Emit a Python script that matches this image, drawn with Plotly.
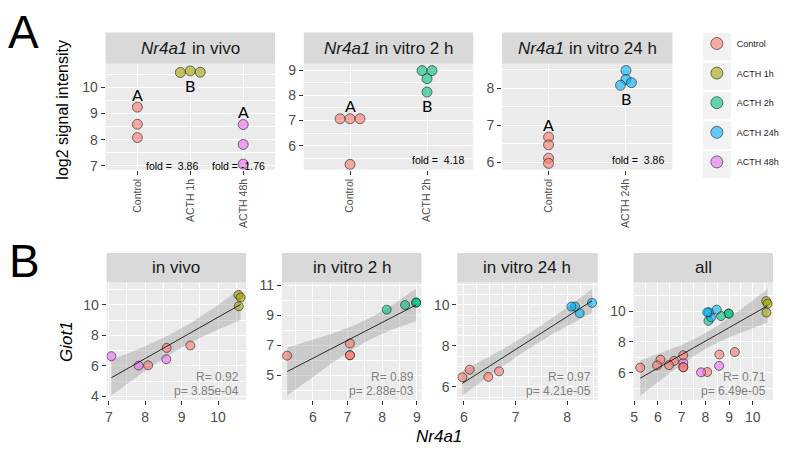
import numpy as np
import plotly.graph_objects as go

W, H = 787, 454

# ---------------- data ----------------
groups = ["Control", "ACTH 1h", "ACTH 2h", "ACTH 24h", "ACTH 48h"]
group_colors = ["#F8766D", "#A3A500", "#00BF7D", "#00B0F6", "#E76BF3"]

# in vivo
vivo_ctrl_nr4a1 = [9.24, 8.59, 8.08]
vivo_ctrl_giot1 = [7.34, 7.18, 6.04]
vivo_1h_nr4a1 = [10.56, 10.62, 10.57]
vivo_1h_giot1 = [10.65, 10.48, 9.91]
vivo_48h_nr4a1 = [8.58, 7.82, 7.07]
vivo_48h_giot1 = [6.44, 6.02, 6.64]
# in vitro 2 h
v2_ctrl_nr4a1 = [7.07, 7.07, 7.07, 5.26]
v2_ctrl_giot1 = [7.13, 6.35, 6.35, 6.32]
v2_acth_nr4a1 = [8.98, 8.98, 8.66, 8.13]
v2_acth_giot1 = [9.84, 9.84, 9.68, 9.37]
# in vitro 24 h
v24_ctrl_nr4a1 = [6.68, 6.47, 6.11, 5.97]
v24_ctrl_giot1 = [6.76, 6.49, 6.84, 6.47]
v24_acth_nr4a1 = [8.48, 8.24, 8.15, 8.08]
v24_acth_giot1 = [10.1, 9.6, 9.92, 9.92]

fold_vivo = ["fold =\u00a0\u00a03.86", "fold = -1.76"]
fold_v2 = ["fold =\u00a0\u00a04.18"]
fold_v24 = ["fold =\u00a0\u00a03.86"]
letters_vivo = ["A", "B", "A"]
letters_v2 = ["A", "B"]
letters_v24 = ["A", "B"]

stat_R = ["0.92", "0.89", "0.97", "0.71"]
stat_p = ["3.85e-04", "2.88e-03", "4.21e-05", "6.49e-05"]

# ---------------- layout helpers ----------------
def px(x0, x1, y0, y1):
    return [x0 / W, x1 / W], [1 - y1 / H, 1 - y0 / H]

FONT = "Liberation Sans, Arial, sans-serif"
TICKC = "#4D4D4D"
ALPHA = 0.6
DOT_A = 10
DOT_B = 9
EDGE = dict(color="rgba(30,30,30,0.75)", width=0.8)

def rgba(hexc, a):
    h = hexc.lstrip("#")
    return "rgba(%d,%d,%d,%s)" % (int(h[0:2], 16), int(h[2:4], 16), int(h[4:6], 16), a)

color_of = dict(zip(groups, group_colors))

fig = go.Figure()
layout = dict(
    width=W, height=H, margin=dict(l=0, r=0, t=0, b=0),
    paper_bgcolor="white", plot_bgcolor="#EBEBEB",
    font=dict(family=FONT, color="#1A1A1A"),
    showlegend=True,
    legend=dict(x=696.5 / W, y=1 - 24.5 / H, xanchor="left", yanchor="top",
                font=dict(size=9, family=FONT, color="#1A1A1A"),
                bgcolor="rgba(0,0,0,0)", traceorder="grouped", tracegroupgap=10.6,
                itemsizing="trace"),
)
shapes, annotations = [], []

def base_axis(domain, rng):
    return dict(domain=domain, range=rng, showgrid=True, gridcolor="white", gridwidth=1.4,
                zeroline=False, ticks="outside", ticklen=4, tickwidth=1, tickcolor="#333333",
                tickfont=dict(size=14, color=TICKC, family=FONT), showline=False, fixedrange=True)

def strip(x0, x1, y0, y1, text):
    shapes.append(dict(type="rect", xref="paper", yref="paper", x0=x0 / W, x1=x1 / W,
                       y0=1 - y1 / H, y1=1 - y0 / H, fillcolor="#D9D9D9", line=dict(width=0)))
    annotations.append(dict(xref="paper", yref="paper", x=(x0 + x1) / 2 / W, y=1 - (y0 + y1) / 2 / H,
                            text=text, showarrow=False, xanchor="center", yanchor="middle",
                            font=dict(size=17, color="#1A1A1A", family=FONT)))

# ---------------- panel A (dot plots) ----------------
A_panels = [
    dict(box=(103, 273, 60, 168), yr=[6.86, 10.89], title="<i>Nr4a1</i> in vivo",
         grp=[("Control", vivo_ctrl_nr4a1, [0, 0, 0]), ("ACTH 1h", vivo_1h_nr4a1, [-1, 0, 1]),
              ("ACTH 48h", vivo_48h_nr4a1, [0, 0, 0])],
         letters=letters_vivo, lpos=["above", "below", "above"],
         folds=fold_vivo, fold_x=[0.66, 1.91], fold_y=0.037),
    dict(box=(302, 472, 60, 168), yr=[5.05, 9.25], title="<i>Nr4a1</i> in vitro 2 h",
         grp=[("Control", v2_ctrl_nr4a1, [-1, 0, 1, 0]), ("ACTH 2h", v2_acth_nr4a1, [-0.5, 0.5, 0, 0])],
         letters=letters_v2, lpos=["above", "below"],
         folds=fold_v2, fold_x=[1.14], fold_y=0.09),
    dict(box=(501, 672, 60, 168), yr=[5.8, 8.66], title="<i>Nr4a1</i> in vitro 24 h",
         grp=[("Control", v24_ctrl_nr4a1, [0, 0, 0, 0]), ("ACTH 24h", v24_acth_nr4a1, [0, 0, 0.55, -0.55])],
         letters=letters_v24, lpos=["above", "below"],
         folds=fold_v24, fold_x=[1.15], fold_y=0.09),
]

for i, P in enumerate(A_panels):
    k = i + 1
    xa = "x" if k == 1 else "x%d" % k
    ya = "y" if k == 1 else "y%d" % k
    x0, x1, y0, y1 = P["box"]
    ncat = len(P["grp"])
    xr = [-0.6, ncat - 1 + 0.6]
    xd, yd = px(x0, x1, y0, y1)
    unit_px = (x1 - x0) / (xr[1] - xr[0])
    xax = base_axis(xd, xr)
    xax.update(tickmode="array", tickvals=list(range(ncat)), ticktext=[g[0] for g in P["grp"]],
               tickangle=-90, tickfont=dict(size=10.5, color=TICKC, family=FONT), anchor=ya)
    yax = base_axis(yd, P["yr"])
    yax.update(tick0=0, dtick=1, anchor=xa,
               minor=dict(dtick=0.5, showgrid=True, gridcolor="white", gridwidth=0.7, ticks=""))
    layout["xaxis" if k == 1 else "xaxis%d" % k] = xax
    layout["yaxis" if k == 1 else "yaxis%d" % k] = yax
    strip(x0, x1, 28, 60, P["title"])
    for j, (g, vals, dodge) in enumerate(P["grp"]):
        xs = [j + d * DOT_A / unit_px for d in dodge]
        fig.add_trace(go.Scatter(x=xs, y=vals, mode="markers", xaxis=xa, yaxis=ya, showlegend=False,
                                 marker=dict(size=DOT_A, color=rgba(color_of[g], ALPHA), line=EDGE),
                                 hoverinfo="skip"))
        above = P["lpos"][j] == "above"
        annotations.append(dict(xref=xa, yref=ya, x=j, y=max(vals) if above else min(vals),
                                yshift=13 if above else -13, text=P["letters"][j], showarrow=False,
                                xanchor="center", yanchor="middle",
                                font=dict(size=16, color="black", family="Lato, sans-serif")))
    for t, fx in zip(P["folds"], P["fold_x"]):
        annotations.append(dict(xref=xa, yref=ya + " domain", x=fx, y=P["fold_y"], text=t,
                                showarrow=False, xanchor="center", yanchor="middle",
                                font=dict(size=10.5, color="black", family=FONT)))

# ---------------- panel B (correlations) ----------------
def t_quantile(df, z=1.959964):
    return (z + (z**3 + z) / (4 * df) + (5 * z**5 + 16 * z**3 + 3 * z) / (96 * df**2)
            + (3 * z**7 + 19 * z**5 + 17 * z**3 - 15 * z) / (384 * df**3))

def fit_band(x, y, n_pts=80):
    x = np.asarray(x, float); y = np.asarray(y, float)
    n = len(x)
    b, a = np.polyfit(x, y, 1)
    xs = np.linspace(x.min(), x.max(), n_pts)
    yh = a + b * xs
    s = np.sqrt(np.sum((y - (a + b * x)) ** 2) / (n - 2))
    se = s * np.sqrt(1 / n + (xs - x.mean()) ** 2 / np.sum((x - x.mean()) ** 2))
    tv = t_quantile(n - 2)
    return xs, yh, yh - tv * se, yh + tv * se

vivo_sets = [("Control", vivo_ctrl_nr4a1, vivo_ctrl_giot1), ("ACTH 1h", vivo_1h_nr4a1, vivo_1h_giot1),
             ("ACTH 48h", vivo_48h_nr4a1, vivo_48h_giot1)]
v2_sets = [("Control", v2_ctrl_nr4a1, v2_ctrl_giot1), ("ACTH 2h", v2_acth_nr4a1, v2_acth_giot1)]
v24_sets = [("Control", v24_ctrl_nr4a1, v24_ctrl_giot1), ("ACTH 24h", v24_acth_nr4a1, v24_acth_giot1)]

B_panels = [
    dict(box=(104, 244, 283, 403), xr=[6.94, 10.77], yr=[3.77, 11.47], title="in vivo", sets=vivo_sets,
         xdt=1, xmin=0.5, ydt=2, ymin=1, y0t=0),
    dict(box=(280, 420, 283, 403), xr=[5.11, 9.13], yr=[3.38, 11.18], title="in vitro 2 h", sets=v2_sets,
         xdt=1, xmin=0.5, ydt=2, ymin=1, y0t=1),
    dict(box=(456, 597, 283, 403), xr=[5.87, 8.59], yr=[5.36, 11.1], title="in vitro 24 h", sets=v24_sets,
         xdt=1, xmin=0.25, ydt=2, ymin=0.5, y0t=0),
    dict(box=(633, 773, 283, 403), xr=[4.98, 10.85], yr=[4.22, 11.87], title="all",
         sets=vivo_sets + v2_sets + v24_sets, xdt=1, xmin=0.5, ydt=2, ymin=1, y0t=0),
]

for i, P in enumerate(B_panels):
    k = i + 4
    xa, ya = "x%d" % k, "y%d" % k
    x0, x1, y0, y1 = P["box"]
    xd, yd = px(x0, x1, y0, y1)
    xax = base_axis(xd, P["xr"])
    xax.update(tick0=0, dtick=P["xdt"], anchor=ya,
               minor=dict(dtick=P["xmin"], showgrid=True, gridcolor="white", gridwidth=0.7, ticks=""))
    yax = base_axis(yd, P["yr"])
    yax.update(tick0=P["y0t"], dtick=P["ydt"], anchor=xa,
               minor=dict(tick0=0, dtick=P["ymin"], showgrid=True, gridcolor="white", gridwidth=0.7, ticks=""))
    layout["xaxis%d" % k] = xax
    layout["yaxis%d" % k] = yax
    strip(x0, x1, 253, 283, P["title"])

    allx = [v for s in P["sets"] for v in s[1]]
    ally = [v for s in P["sets"] for v in s[2]]
    xs, yh, lo, hi = fit_band(allx, ally)
    fig.add_trace(go.Scatter(x=np.concatenate([xs, xs[::-1]]), y=np.concatenate([hi, lo[::-1]]),
                             fill="toself", fillcolor="rgba(153,153,153,0.4)", line=dict(width=0),
                             mode="lines", xaxis=xa, yaxis=ya, showlegend=False, hoverinfo="skip"))
    for g, nx, gy in P["sets"]:
        fig.add_trace(go.Scatter(x=nx, y=gy, mode="markers", xaxis=xa, yaxis=ya, showlegend=False,
                                 marker=dict(size=DOT_B, color=rgba(color_of[g], ALPHA), line=EDGE),
                                 hoverinfo="skip"))
    fig.add_trace(go.Scatter(x=xs, y=yh, mode="lines", line=dict(color="black", width=0.8),
                             xaxis=xa, yaxis=ya, showlegend=False, hoverinfo="skip"))
    annotations.append(dict(xref=xa + " domain", yref=ya + " domain", x=1, y=0, xshift=-5, yshift=22.7,
                            text="R= " + stat_R[i], showarrow=False, xanchor="right", yanchor="middle",
                            font=dict(size=12, color="#808080", family=FONT)))
    annotations.append(dict(xref=xa + " domain", yref=ya + " domain", x=1, y=0, xshift=-5, yshift=9,
                            text="p= " + stat_p[i], showarrow=False, xanchor="right", yanchor="middle",
                            font=dict(size=12, color="#808080", family=FONT)))

# ---------------- legend ----------------
for g, c in zip(groups, group_colors):
    fig.add_trace(go.Scatter(x=[None], y=[None], mode="markers", name=g, legendgroup=g,
                             marker=dict(size=12, color=rgba(c, ALPHA), line=EDGE), showlegend=True))
for j in range(len(groups)):
    cy = 42.7 + 30 * j
    shapes.append(dict(type="rect", xref="paper", yref="paper", x0=702.7 / W, x1=730.7 / W,
                       y0=1 - (cy + 14) / H, y1=1 - (cy - 14) / H, fillcolor="#F2F2F2", line=dict(width=0),
                       layer="below"))

# ---------------- titles ----------------
def ptext(x, y, text, size, angle=0, family=FONT, color="black"):
    annotations.append(dict(xref="paper", yref="paper", x=x / W, y=1 - y / H, text=text, showarrow=False,
                            xanchor="center", yanchor="middle", textangle=angle,
                            font=dict(size=size, color=color, family=family)))

ptext(60, 107, "log2 signal intensity", 16, angle=-90)
ptext(63, 343, "<i>Giot1</i>", 17, angle=-90)
ptext(438, 440, "<i>Nr4a1</i>", 17)
ptext(21, 28, "A", 46)
ptext(22, 261, "B", 46)

layout["shapes"] = shapes
layout["annotations"] = annotations
fig.update_layout(**layout)
fig.write_html("out.html", config={"displayModeBar": False},
               post_script="document.body.style.margin='0';document.body.style.overflow='hidden';")
